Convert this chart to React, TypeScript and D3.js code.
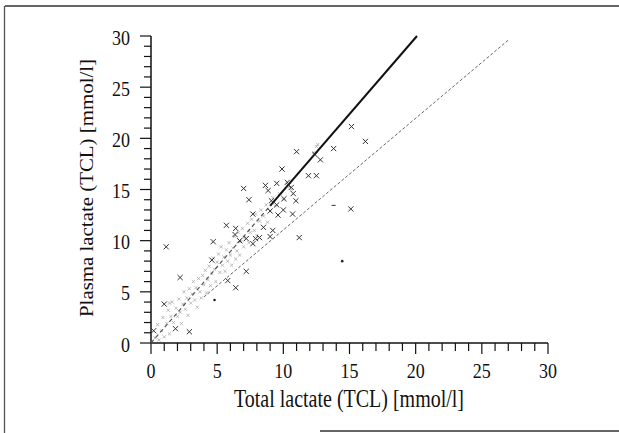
import React from "react";
import * as d3 from "d3";

const xTickLabels = [0, 5, 10, 15, 20, 25, 30];
const yTickLabels = [0, 5, 10, 15, 20, 25, 30];
const minorTicks = d3.range(0, 31);

// dark crosses [TCL, plasma]
const crossPoints: [number, number][] = [
  [0.2, 1.2], [1.0, 3.8], [1.85, 1.4], [2.9, 1.1], [1.15, 9.4], [2.2, 6.4],
  [4.6, 8.1], [4.7, 9.9], [5.7, 11.5], [5.8, 6.1], [6.4, 5.4], [6.4, 11.2],
  [6.35, 10.6], [6.7, 10.0], [7.2, 10.2], [7.2, 7.0], [7.0, 15.1], [7.4, 14.0],
  [7.7, 12.6], [7.7, 9.7], [7.9, 10.2], [8.5, 11.3], [8.2, 10.3], [8.65, 15.4],
  [8.85, 14.9], [9.0, 12.9], [9.0, 10.4], [9.2, 11.0], [9.1, 13.9], [9.5, 13.5],
  [9.5, 15.6], [9.6, 12.5], [9.9, 17.0], [10.0, 13.0], [10.05, 14.1], [10.3, 15.7],
  [10.4, 15.4], [10.6, 15.2], [10.7, 12.6], [10.75, 14.6], [10.95, 13.9], [11.0, 18.7],
  [11.2, 10.3], [11.9, 16.35], [12.5, 16.35], [12.4, 18.4], [12.8, 17.9], [13.8, 19.0],
  [15.15, 21.15], [16.2, 19.7], [15.1, 13.1],
];

// light grey marks [TCL, plasma]
const grayPoints: [number, number][] = [
  [0.3, 0.5], [0.5, 1.8], [0.6, 0.3], [0.8, 1.2], [0.9, 2.5], [1.0, 0.6], [1.2, 1.9],
  [1.3, 3.2], [1.4, 0.9], [1.4, 3.9], [1.5, 2.6], [1.6, 4.0], [1.7, 2.0], [1.9, 3.4],
  [2.0, 2.6], [2.1, 4.3], [2.2, 3.0], [2.3, 1.9], [2.4, 3.8], [2.5, 5.0], [2.6, 3.3],
  [2.7, 4.4], [2.8, 2.7], [2.9, 5.3], [3.0, 3.9], [3.1, 4.8], [3.2, 6.0], [3.3, 4.2],
  [3.4, 5.4], [3.5, 3.5], [3.6, 6.3], [3.7, 5.0], [3.8, 4.4], [3.9, 6.6], [4.0, 5.7],
  [4.1, 7.1], [4.2, 4.9], [4.3, 6.2], [4.4, 7.5], [4.5, 5.6], [4.6, 6.8], [4.7, 8.3],
  [4.8, 7.2], [4.9, 6.0], [5.0, 7.9], [5.1, 8.7], [5.2, 6.9], [5.3, 9.4], [5.4, 7.6],
  [5.5, 8.4], [5.6, 7.0], [5.7, 9.1], [5.8, 8.0], [5.9, 9.8], [6.0, 8.6], [6.1, 7.6],
  [6.2, 9.3], [6.3, 10.4], [6.4, 8.2], [6.5, 9.0], [6.6, 10.8], [6.7, 8.6], [6.8, 9.9],
  [6.9, 11.2], [7.0, 9.4], [7.1, 10.3], [7.3, 11.7], [7.4, 9.8], [7.5, 10.8], [7.6, 12.1],
  [7.8, 11.0], [7.9, 12.6], [8.0, 10.5], [8.2, 11.9], [8.3, 13.0], [8.5, 12.4], [8.7, 13.5],
  [8.8, 11.8], [9.0, 12.9], [9.2, 14.2], [9.4, 13.4], [9.7, 14.6], [10.0, 14.0], [10.3, 15.3],
  [10.6, 15.0], [12.3, 18.6], [12.5, 19.2], [12.6, 19.4],
];

const dotPoints: [number, number][] = [[14.45, 8.0], [4.8, 4.2]];
const dashMarks: [number, number][] = [[13.8, 13.45]];

// regression line (lower part hidden in the point cloud) and dashed reference line
const solidLineLower: [number, number][] = [[0, 0], [9.0, 13.4]];
const solidLineUpper: [number, number][] = [[9.0, 13.4], [20.1, 30]];
const dashedLine: [number, number][] = [[4.0, 4.5], [27.0, 29.6]];

const W = 619;
const H = 433;
const STRETCH = 1.22;

export default function App() {
  const x = d3.scaleLinear().domain([0, 30]).range([151, 548]);
  const y = d3.scaleLinear().domain([0, 30]).range([343, 36]);
  const line = d3
    .line<[number, number]>()
    .x((d) => x(d[0]))
    .y((d) => y(d[1]));
  const font = "'Liberation Serif', 'DejaVu Serif', serif";
  const cross = (cx: number, cy: number, r: number) =>
    `M${cx - r},${cy - r}L${cx + r},${cy + r}M${cx - r},${cy + r}L${cx + r},${cy - r}`;

  return (
    <div style={{ position: "absolute", left: 0, top: 0 }}>
      <svg width={W} height={H} style={{ display: "block", background: "#fff" }}>
        {/* scan frame */}
        <line x1={5} y1={6} x2={619} y2={6} stroke="#333" strokeWidth={1.3} />
        <line x1={4.5} y1={6} x2={4.5} y2={433} stroke="#555" strokeWidth={1.3} />
        <line x1={320} y1={431} x2={619} y2={431} stroke="#333" strokeWidth={1.3} />

        {/* axes */}
        <line x1={x(0)} y1={y(0)} x2={x(30)} y2={y(0)} stroke="#111" strokeWidth={1.5} />
        <line x1={x(0)} y1={y(0)} x2={x(0)} y2={y(30)} stroke="#111" strokeWidth={1.5} />
        {minorTicks.map((t) => (
          <line
            key={"xt" + t}
            x1={x(t)}
            x2={x(t)}
            y1={y(0)}
            y2={y(0) + (t % 5 === 0 ? 11 : 8)}
            stroke="#111"
            strokeWidth={1.2}
          />
        ))}
        {minorTicks.map((t) => (
          <line
            key={"yt" + t}
            x1={x(0) - (t % 5 === 0 ? 11 : 7)}
            x2={x(0)}
            y1={y(t)}
            y2={y(t)}
            stroke="#111"
            strokeWidth={1.2}
          />
        ))}
        {xTickLabels.map((t) => (
          <text
            key={"xl" + t}
            transform={`translate(${x(t)},378) scale(1,${STRETCH})`}
            textAnchor="middle"
            fontFamily={font}
            fontSize={18}
            fill="#111"
          >
            {t}
          </text>
        ))}
        {yTickLabels.map((t) => (
          <text
            key={"yl" + t}
            transform={`translate(130,${y(t) + 8.5}) scale(1,${STRETCH})`}
            textAnchor="end"
            fontFamily={font}
            fontSize={18}
            fill="#111"
          >
            {t}
          </text>
        ))}
        <text
          transform={`translate(349,407) scale(1,${STRETCH})`}
          textAnchor="middle"
          fontFamily={font}
          fontSize={20}
          fill="#111"
        >
          Total lactate (TCL) [mmol/l]
        </text>
        <text
          transform={`translate(93,188) rotate(-90) scale(1.13,1)`}
          textAnchor="middle"
          fontFamily={font}
          fontSize={18.5}
          fill="#111"
        >
          Plasma lactate (TCL) [mmol/l]
        </text>

        {/* grey marks */}
        {grayPoints.map((p, i) => (
          <path key={"g" + i} d={cross(x(p[0]), y(p[1]), 1.6)} stroke="#aaa" strokeWidth={0.8} fill="none" />
        ))}

        {/* lines */}
        <path d={line(dashedLine) || ""} stroke="#666" strokeWidth={1} strokeDasharray="3,2" fill="none" />
        <path d={line(solidLineLower) || ""} stroke="#555" strokeWidth={1.2} strokeDasharray="4,3" fill="none" />
        <path d={line(solidLineUpper) || ""} stroke="#111" strokeWidth={2} fill="none" />

        {/* dark crosses */}
        {crossPoints.map((p, i) => (
          <path key={"c" + i} d={cross(x(p[0]), y(p[1]), 2.6)} stroke="#333" strokeWidth={1} fill="none" />
        ))}
        {dotPoints.map((p, i) => (
          <circle key={"d" + i} cx={x(p[0])} cy={y(p[1])} r={1.3} fill="#222" />
        ))}
        {dashMarks.map((p, i) => (
          <line key={"m" + i} x1={x(p[0]) - 2} x2={x(p[0]) + 2} y1={y(p[1])} y2={y(p[1])} stroke="#333" strokeWidth={1} />
        ))}
      </svg>
    </div>
  );
}
